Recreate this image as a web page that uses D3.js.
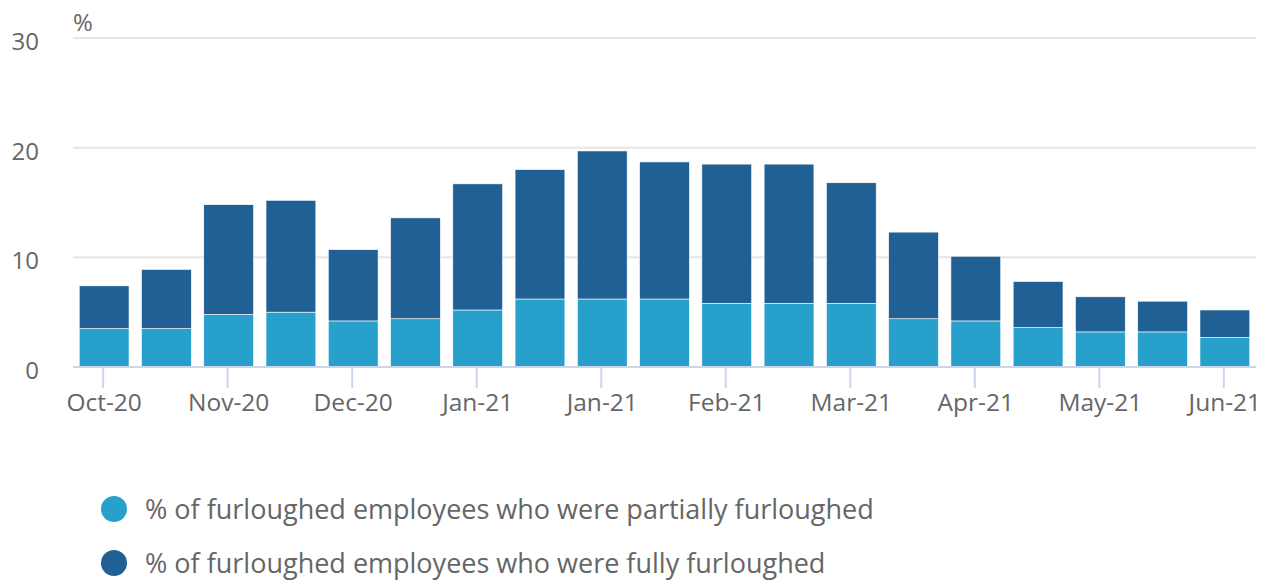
<!DOCTYPE html>
<html>
<head>
<meta charset="utf-8">
<script src="https://cdn.jsdelivr.net/npm/d3@7"></script>
<style>
  body { margin: 0; background: #fff; }
  svg { font-family: "Open Sans", sans-serif; }
</style>
</head>
<body>
<svg id="chart" width="1265" height="580"></svg>
<script>
// data
var months = ["Oct-20", "", "Nov-20", "", "Dec-20", "", "Jan-21", "", "Jan-21", "",
              "Feb-21", "", "Mar-21", "", "Apr-21", "", "May-21", "", "Jun-21"];
var partial = [3.5, 3.5, 4.8, 5.0, 4.2, 4.4, 5.2, 6.2, 6.2, 6.2,
               5.8, 5.8, 5.8, 4.4, 4.2, 3.6, 3.2, 3.2, 2.7];
var full = [3.9, 5.4, 10.0, 10.2, 6.5, 9.2, 11.5, 11.8, 13.5, 12.5,
            12.7, 12.7, 11.0, 7.9, 5.9, 4.2, 3.2, 2.8, 2.5];
var yTicks = [0, 10, 20, 30];
var seriesNames = ["% of furloughed employees who were partially furloughed",
                   "% of furloughed employees who were fully furloughed"];
var colors = ["#27a0cc", "#206095"];

var svg = d3.select("#chart");
// plot area (note: "top" is taken by window.top, so use other names)
var plotL = 73, plotR = 1256, plotT = 38, plotB = 367;

var idx = d3.range(months.length);
var x = d3.scaleBand().domain(idx).range([plotL, plotR]).paddingInner(0.2).paddingOuter(0.1);
var y = d3.scaleLinear().domain([0, 30]).range([plotB, plotT]);

// gridlines
svg.append("g").selectAll("line")
  .data(yTicks.filter(function (d) { return d > 0; }))
  .enter().append("line")
  .attr("x1", plotL).attr("x2", plotR)
  .attr("y1", function (d) { return y(d); })
  .attr("y2", function (d) { return y(d); })
  .attr("stroke", "#e6e6e6").attr("stroke-width", 2);

// y labels
svg.append("g").selectAll("text")
  .data(yTicks)
  .enter().append("text")
  .attr("x", 39)
  .attr("y", function (d) { return y(d) + 12; })
  .attr("text-anchor", "end")
  .attr("font-size", 24)
  .attr("fill", "#666")
  .text(function (d) { return d; });

svg.append("text")
  .attr("x", 73).attr("y", 31)
  .attr("font-size", 24).attr("fill", "#666")
  .text("%");

// stacked bars
var stackData = idx.map(function (i) { return { i: i, partial: partial[i], full: full[i] }; });
var stack = d3.stack().keys(["partial", "full"])(stackData);

svg.append("g").selectAll("g")
  .data(stack)
  .enter().append("g")
  .attr("fill", function (d, k) { return colors[k]; })
  .selectAll("rect")
  .data(function (d) { return d; })
  .enter().append("rect")
  .attr("x", function (d) { return x(d.data.i); })
  .attr("width", x.bandwidth())
  .attr("y", function (d) { return y(d[1]); })
  .attr("height", function (d) { return y(d[0]) - y(d[1]); })
  .attr("stroke", "#fff").attr("stroke-width", 0.6);

// x axis
var xAxis = svg.append("g").attr("transform", "translate(0," + plotB + ")");
xAxis.append("line")
  .attr("x1", plotL).attr("x2", plotR)
  .attr("stroke", "#ccd6eb").attr("stroke-width", 2);
var tickIdx = idx.filter(function (i) { return months[i] !== ""; });
xAxis.selectAll("line.tick")
  .data(tickIdx)
  .enter().append("line")
  .attr("class", "tick")
  .attr("x1", function (i) { return x(i) + x.bandwidth() / 2 - 1; })
  .attr("x2", function (i) { return x(i) + x.bandwidth() / 2 - 1; })
  .attr("y1", 0).attr("y2", 21)
  .attr("stroke", "#ccd6eb").attr("stroke-width", 2);
xAxis.selectAll("text")
  .data(tickIdx)
  .enter().append("text")
  .attr("x", function (i) { return x(i) + x.bandwidth() / 2; })
  .attr("y", 44)
  .attr("text-anchor", "middle")
  .attr("font-size", 24.5)
  .attr("fill", "#666")
  .text(function (i) { return months[i]; });

// legend
var legend = svg.append("g").selectAll("g")
  .data(seriesNames)
  .enter().append("g")
  .attr("transform", function (d, k) { return "translate(114," + (509 + k * 54) + ")"; });
legend.append("circle")
  .attr("r", 13)
  .attr("fill", function (d, k) { return colors[k]; });
legend.append("text")
  .attr("x", 31).attr("y", 10)
  .attr("font-size", 27)
  .attr("fill", "#666")
  .text(function (d) { return d; });
</script>
</body>
</html>
